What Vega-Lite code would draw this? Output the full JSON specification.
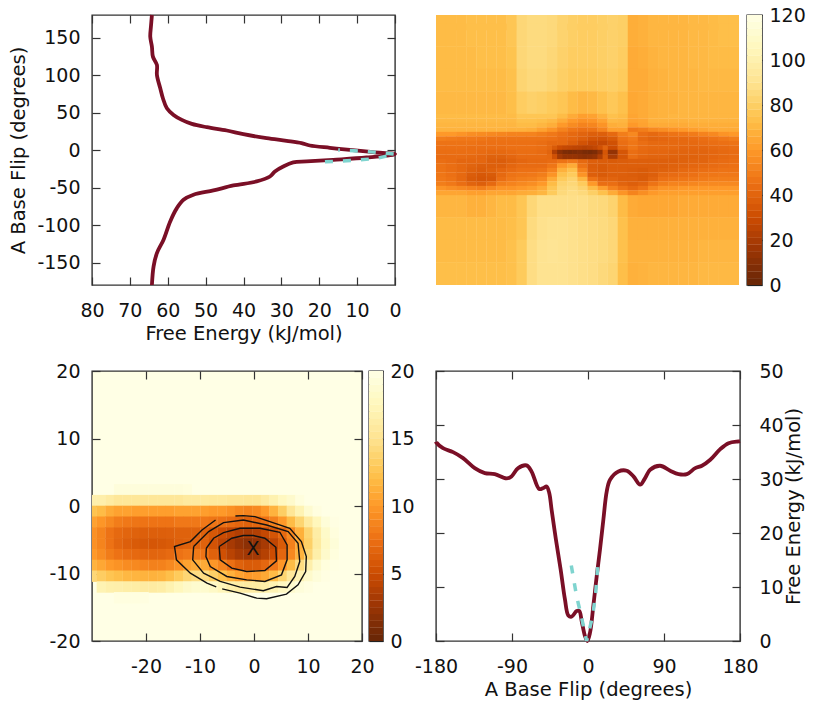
{"$schema":"https://vega.github.io/schema/vega-lite/v6.json","background":"white","padding":{"left":8,"top":5,"right":15,"bottom":10},"bounds":"flush","spacing":356,"resolve":{"scale":{"color":"independent"}},
"config":{"view":{"stroke":"#333","strokeWidth":1.4},"text":{"font":"DejaVu Sans"},"axis":{"domain":false,"grid":false,"ticks":true,"tickSize":-8,"tickColor":"#333","tickWidth":1.2,"labelColor":"#111","labelFont":"DejaVu Sans","labelFontSize":19,"titleFont":"DejaVu Sans","titleFontSize":19.5,"titleFontWeight":"normal","titleColor":"#111","labelOverlap":false,"labelBound":false,"labelFlush":false,"labelPadding":24,"labelExpr":"''+datum.value"}},
"datasets":{
"A":[{"e":64.18,"y":180,"i":1},{"e":64.44,"y":164.4,"i":2},{"e":64.62,"y":151.1,"i":3},{"e":64.18,"y":137.8,"i":4},{"e":63.92,"y":124.5,"i":5},{"e":62.86,"y":113.4,"i":6},{"e":62.86,"y":100.1,"i":7},{"e":61.98,"y":82.3,"i":8},{"e":61.28,"y":69,"i":9},{"e":60.23,"y":55.7,"i":10},{"e":58.47,"y":46.8,"i":11},{"e":56.28,"y":40.2,"i":12},{"e":53.64,"y":34.8,"i":13},{"e":49.69,"y":30.4,"i":14},{"e":44.43,"y":26,"i":15},{"e":40.04,"y":21.1,"i":16},{"e":33.89,"y":15.8,"i":17},{"e":28.62,"y":12.2,"i":18},{"e":24.67,"y":9.1,"i":19},{"e":22.48,"y":6,"i":20},{"e":17.21,"y":2.9,"i":21},{"e":11.94,"y":0.2,"i":22},{"e":5.79,"y":-2.9,"i":23},{"e":0,"y":-5.5,"i":24},{"e":7.55,"y":-10,"i":25},{"e":16.33,"y":-13.1,"i":26},{"e":23.35,"y":-15.3,"i":27},{"e":26.87,"y":-16.6,"i":28},{"e":29.5,"y":-22,"i":29},{"e":31.7,"y":-28.6,"i":30},{"e":33.01,"y":-35.3,"i":31},{"e":36.52,"y":-41.9,"i":32},{"e":42.67,"y":-47.3,"i":33},{"e":47.94,"y":-53.9,"i":34},{"e":53.2,"y":-59.7,"i":35},{"e":55.84,"y":-66.4,"i":36},{"e":57.59,"y":-77.5,"i":37},{"e":59.35,"y":-95.2,"i":38},{"e":61.11,"y":-119.6,"i":39},{"e":62.86,"y":-137.4,"i":40},{"e":63.74,"y":-155.1,"i":41},{"e":64.18,"y":-180,"i":42}],
"Ad":[{"e":18.5,"y":-15.8,"i":1},{"e":11.06,"y":-14,"i":2},{"e":4.92,"y":-11.3,"i":3},{"e":0,"y":-5.5,"i":4},{"e":7.55,"y":-2,"i":5},{"e":15,"y":0,"i":6}],
"D":[{"x":-180,"e":36.9},{"x":-179.6,"e":36.76},{"x":-171.7,"e":35.71},{"x":-159.8,"e":34.98},{"x":-147.9,"e":33.87},{"x":-134.1,"e":32.02},{"x":-122.2,"e":31.1},{"x":-110.4,"e":30.91},{"x":-96.5,"e":30.11},{"x":-90.6,"e":30.48},{"x":-82.7,"e":32.02},{"x":-72.8,"e":32.51},{"x":-66.9,"e":31.4},{"x":-57.8,"e":28.14},{"x":-53,"e":28.33},{"x":-49,"e":28.63},{"x":-45.9,"e":27.4},{"x":-43.1,"e":24.32},{"x":-38,"e":18.78},{"x":-32.4,"e":13.24},{"x":-27.3,"e":7.7},{"x":-23.3,"e":4.74},{"x":-19.4,"e":4.5},{"x":-13.4,"e":5.54},{"x":-10.3,"e":5.54},{"x":-7.5,"e":3.69},{"x":-3.6,"e":0.92},{"x":-0.8,"e":0},{"x":2.4,"e":1.54},{"x":6.3,"e":6.47},{"x":10.3,"e":12},{"x":14.2,"e":16.93},{"x":18.2,"e":22.48},{"x":22.2,"e":27.71},{"x":26.1,"e":29.86},{"x":36,"e":31.4},{"x":45.9,"e":31.53},{"x":53.8,"e":30.48},{"x":61.7,"e":28.94},{"x":67.6,"e":30.17},{"x":73.6,"e":31.71},{"x":85.4,"e":32.45},{"x":97.3,"e":31.53},{"x":107.2,"e":30.91},{"x":117.1,"e":30.91},{"x":127,"e":32.02},{"x":134.9,"e":32.45},{"x":144.8,"e":33.56},{"x":156.6,"e":35.53},{"x":166.5,"e":36.64},{"x":178.4,"e":36.95},{"x":180,"e":37}],
"Dd":[{"x":-19.8,"e":13.98},{"x":-13.4,"e":8.19},{"x":-8.7,"e":5.11},{"x":-1.6,"e":0},{"x":5.5,"e":4.6},{"x":9.1,"e":8.9},{"x":11.5,"e":13.7}],
"B1":[{"x":-174,"y":175,"v":72},{"x":-162,"y":175,"v":72},{"x":-150,"y":175,"v":72},{"x":-138,"y":175,"v":73},{"x":-126,"y":175,"v":73},{"x":-114,"y":175,"v":73},{"x":-102,"y":175,"v":73},{"x":-90,"y":175,"v":76},{"x":-78,"y":175,"v":84},{"x":-66,"y":175,"v":86},{"x":-54,"y":175,"v":86},{"x":-42,"y":175,"v":85},{"x":-30,"y":175,"v":82},{"x":-18,"y":175,"v":80},{"x":-6,"y":175,"v":79},{"x":6,"y":175,"v":79},{"x":18,"y":175,"v":80},{"x":30,"y":175,"v":81},{"x":42,"y":175,"v":80},{"x":54,"y":175,"v":67},{"x":66,"y":175,"v":68},{"x":78,"y":175,"v":70},{"x":90,"y":175,"v":70},{"x":102,"y":175,"v":70},{"x":114,"y":175,"v":70},{"x":126,"y":175,"v":71},{"x":138,"y":175,"v":71},{"x":150,"y":175,"v":72},{"x":162,"y":175,"v":73},{"x":174,"y":175,"v":73},
{"x":-174,"y":153,"v":72},{"x":-162,"y":153,"v":72},{"x":-150,"y":153,"v":72},{"x":-138,"y":153,"v":73},{"x":-126,"y":153,"v":73},{"x":-114,"y":153,"v":73},{"x":-102,"y":153,"v":73},{"x":-90,"y":153,"v":76},{"x":-78,"y":153,"v":84},{"x":-66,"y":153,"v":86},{"x":-54,"y":153,"v":86},{"x":-42,"y":153,"v":85},{"x":-30,"y":153,"v":82},{"x":-18,"y":153,"v":80},{"x":-6,"y":153,"v":79},{"x":6,"y":153,"v":79},{"x":18,"y":153,"v":80},{"x":30,"y":153,"v":81},{"x":42,"y":153,"v":80},{"x":54,"y":153,"v":67},{"x":66,"y":153,"v":68},{"x":78,"y":153,"v":70},{"x":90,"y":153,"v":70},{"x":102,"y":153,"v":70},{"x":114,"y":153,"v":70},{"x":126,"y":153,"v":71},{"x":138,"y":153,"v":71},{"x":150,"y":153,"v":72},{"x":162,"y":153,"v":73},{"x":174,"y":153,"v":73},
{"x":-174,"y":123,"v":72},{"x":-162,"y":123,"v":72},{"x":-150,"y":123,"v":72},{"x":-138,"y":123,"v":72},{"x":-126,"y":123,"v":73},{"x":-114,"y":123,"v":73},{"x":-102,"y":123,"v":73},{"x":-90,"y":123,"v":75},{"x":-78,"y":123,"v":84},{"x":-66,"y":123,"v":86},{"x":-54,"y":123,"v":86},{"x":-42,"y":123,"v":84},{"x":-30,"y":123,"v":81},{"x":-18,"y":123,"v":79},{"x":-6,"y":123,"v":79},{"x":6,"y":123,"v":79},{"x":18,"y":123,"v":80},{"x":30,"y":123,"v":81},{"x":42,"y":123,"v":79},{"x":54,"y":123,"v":66},{"x":66,"y":123,"v":67},{"x":78,"y":123,"v":69},{"x":90,"y":123,"v":70},{"x":102,"y":123,"v":70},{"x":114,"y":123,"v":70},{"x":126,"y":123,"v":71},{"x":138,"y":123,"v":71},{"x":150,"y":123,"v":72},{"x":162,"y":123,"v":72},{"x":174,"y":123,"v":72},
{"x":-174,"y":93,"v":72},{"x":-162,"y":93,"v":72},{"x":-150,"y":93,"v":72},{"x":-138,"y":93,"v":72},{"x":-126,"y":93,"v":72},{"x":-114,"y":93,"v":72},{"x":-102,"y":93,"v":72},{"x":-90,"y":93,"v":74},{"x":-78,"y":93,"v":83},{"x":-66,"y":93,"v":85},{"x":-54,"y":93,"v":85},{"x":-42,"y":93,"v":83},{"x":-30,"y":93,"v":80},{"x":-18,"y":93,"v":78},{"x":-6,"y":93,"v":78},{"x":6,"y":93,"v":78},{"x":18,"y":93,"v":79},{"x":30,"y":93,"v":80},{"x":42,"y":93,"v":78},{"x":54,"y":93,"v":66},{"x":66,"y":93,"v":66},{"x":78,"y":93,"v":68},{"x":90,"y":93,"v":69},{"x":102,"y":93,"v":70},{"x":114,"y":93,"v":70},{"x":126,"y":93,"v":70},{"x":138,"y":93,"v":71},{"x":150,"y":93,"v":71},{"x":162,"y":93,"v":71},{"x":174,"y":93,"v":71},
{"x":-174,"y":63,"v":71},{"x":-162,"y":63,"v":71},{"x":-150,"y":63,"v":71},{"x":-138,"y":63,"v":71},{"x":-126,"y":63,"v":71},{"x":-114,"y":63,"v":71},{"x":-102,"y":63,"v":71},{"x":-90,"y":63,"v":73},{"x":-78,"y":63,"v":79},{"x":-66,"y":63,"v":81},{"x":-54,"y":63,"v":80},{"x":-42,"y":63,"v":78},{"x":-30,"y":63,"v":76},{"x":-18,"y":63,"v":72},{"x":-6,"y":63,"v":70},{"x":6,"y":63,"v":71},{"x":18,"y":63,"v":74},{"x":30,"y":63,"v":77},{"x":42,"y":63,"v":74},{"x":54,"y":63,"v":65},{"x":66,"y":63,"v":66},{"x":78,"y":63,"v":68},{"x":90,"y":63,"v":69},{"x":102,"y":63,"v":69},{"x":114,"y":63,"v":70},{"x":126,"y":63,"v":70},{"x":138,"y":63,"v":70},{"x":150,"y":63,"v":70},{"x":162,"y":63,"v":70},{"x":174,"y":63,"v":70},
{"x":-174,"y":-75,"v":70},{"x":-162,"y":-75,"v":70},{"x":-150,"y":-75,"v":70},{"x":-138,"y":-75,"v":68},{"x":-126,"y":-75,"v":68},{"x":-114,"y":-75,"v":70},{"x":-102,"y":-75,"v":72},{"x":-90,"y":-75,"v":72},{"x":-78,"y":-75,"v":76},{"x":-66,"y":-75,"v":84},{"x":-54,"y":-75,"v":88},{"x":-42,"y":-75,"v":88},{"x":-30,"y":-75,"v":88},{"x":-18,"y":-75,"v":88},{"x":-6,"y":-75,"v":88},{"x":6,"y":-75,"v":86},{"x":18,"y":-75,"v":85},{"x":30,"y":-75,"v":82},{"x":42,"y":-75,"v":72},{"x":54,"y":-75,"v":66},{"x":66,"y":-75,"v":65},{"x":78,"y":-75,"v":65},{"x":90,"y":-75,"v":65},{"x":102,"y":-75,"v":65},{"x":114,"y":-75,"v":66},{"x":126,"y":-75,"v":66},{"x":138,"y":-75,"v":66},{"x":150,"y":-75,"v":66},{"x":162,"y":-75,"v":66},{"x":174,"y":-75,"v":66},
{"x":-174,"y":-105,"v":72},{"x":-162,"y":-105,"v":72},{"x":-150,"y":-105,"v":72},{"x":-138,"y":-105,"v":72},{"x":-126,"y":-105,"v":72},{"x":-114,"y":-105,"v":72},{"x":-102,"y":-105,"v":72},{"x":-90,"y":-105,"v":73},{"x":-78,"y":-105,"v":76},{"x":-66,"y":-105,"v":86},{"x":-54,"y":-105,"v":89},{"x":-42,"y":-105,"v":90},{"x":-30,"y":-105,"v":90},{"x":-18,"y":-105,"v":89},{"x":-6,"y":-105,"v":88},{"x":6,"y":-105,"v":87},{"x":18,"y":-105,"v":86},{"x":30,"y":-105,"v":84},{"x":42,"y":-105,"v":74},{"x":54,"y":-105,"v":68},{"x":66,"y":-105,"v":68},{"x":78,"y":-105,"v":68},{"x":90,"y":-105,"v":68},{"x":102,"y":-105,"v":68},{"x":114,"y":-105,"v":68},{"x":126,"y":-105,"v":68},{"x":138,"y":-105,"v":68},{"x":150,"y":-105,"v":68},{"x":162,"y":-105,"v":68},{"x":174,"y":-105,"v":68},
{"x":-174,"y":-135,"v":72},{"x":-162,"y":-135,"v":72},{"x":-150,"y":-135,"v":72},{"x":-138,"y":-135,"v":72},{"x":-126,"y":-135,"v":72},{"x":-114,"y":-135,"v":72},{"x":-102,"y":-135,"v":72},{"x":-90,"y":-135,"v":74},{"x":-78,"y":-135,"v":78},{"x":-66,"y":-135,"v":87},{"x":-54,"y":-135,"v":90},{"x":-42,"y":-135,"v":91},{"x":-30,"y":-135,"v":90},{"x":-18,"y":-135,"v":89},{"x":-6,"y":-135,"v":88},{"x":6,"y":-135,"v":87},{"x":18,"y":-135,"v":86},{"x":30,"y":-135,"v":84},{"x":42,"y":-135,"v":74},{"x":54,"y":-135,"v":69},{"x":66,"y":-135,"v":69},{"x":78,"y":-135,"v":69},{"x":90,"y":-135,"v":69},{"x":102,"y":-135,"v":69},{"x":114,"y":-135,"v":69},{"x":126,"y":-135,"v":69},{"x":138,"y":-135,"v":70},{"x":150,"y":-135,"v":70},{"x":162,"y":-135,"v":70},{"x":174,"y":-135,"v":70},
{"x":-174,"y":-165,"v":73},{"x":-162,"y":-165,"v":73},{"x":-150,"y":-165,"v":73},{"x":-138,"y":-165,"v":73},{"x":-126,"y":-165,"v":73},{"x":-114,"y":-165,"v":73},{"x":-102,"y":-165,"v":73},{"x":-90,"y":-165,"v":74},{"x":-78,"y":-165,"v":78},{"x":-66,"y":-165,"v":87},{"x":-54,"y":-165,"v":90},{"x":-42,"y":-165,"v":90},{"x":-30,"y":-165,"v":90},{"x":-18,"y":-165,"v":89},{"x":-6,"y":-165,"v":88},{"x":6,"y":-165,"v":87},{"x":18,"y":-165,"v":85},{"x":30,"y":-165,"v":83},{"x":42,"y":-165,"v":73},{"x":54,"y":-165,"v":68},{"x":66,"y":-165,"v":69},{"x":78,"y":-165,"v":70},{"x":90,"y":-165,"v":70},{"x":102,"y":-165,"v":70},{"x":114,"y":-165,"v":70},{"x":126,"y":-165,"v":70},{"x":138,"y":-165,"v":71},{"x":150,"y":-165,"v":71},{"x":162,"y":-165,"v":71},{"x":174,"y":-165,"v":71}],
"B2":[{"x":-174,"y":45,"v":72},{"x":-162,"y":45,"v":72},{"x":-150,"y":45,"v":72},{"x":-138,"y":45,"v":72},{"x":-126,"y":45,"v":72},{"x":-114,"y":45,"v":72},{"x":-102,"y":45,"v":72},{"x":-90,"y":45,"v":72},{"x":-78,"y":45,"v":76},{"x":-66,"y":45,"v":76},{"x":-54,"y":45,"v":76},{"x":-42,"y":45,"v":76},{"x":-30,"y":45,"v":72},{"x":-18,"y":45,"v":66},{"x":-6,"y":45,"v":62},{"x":6,"y":45,"v":63},{"x":18,"y":45,"v":68},{"x":30,"y":45,"v":74},{"x":42,"y":45,"v":72},{"x":54,"y":45,"v":64},{"x":66,"y":45,"v":66},{"x":78,"y":45,"v":68},{"x":90,"y":45,"v":69},{"x":102,"y":45,"v":70},{"x":114,"y":45,"v":70},{"x":126,"y":45,"v":70},{"x":138,"y":45,"v":70},{"x":150,"y":45,"v":70},{"x":162,"y":45,"v":70},{"x":174,"y":45,"v":70},
{"x":-174,"y":39,"v":71},{"x":-162,"y":39,"v":71},{"x":-150,"y":39,"v":71},{"x":-138,"y":39,"v":71},{"x":-126,"y":39,"v":71},{"x":-114,"y":39,"v":71},{"x":-102,"y":39,"v":71},{"x":-90,"y":39,"v":71},{"x":-78,"y":39,"v":74},{"x":-66,"y":39,"v":74},{"x":-54,"y":39,"v":73},{"x":-42,"y":39,"v":71},{"x":-30,"y":39,"v":66},{"x":-18,"y":39,"v":60},{"x":-6,"y":39,"v":57},{"x":6,"y":39,"v":58},{"x":18,"y":39,"v":63},{"x":30,"y":39,"v":71},{"x":42,"y":39,"v":70},{"x":54,"y":39,"v":63},{"x":66,"y":39,"v":64},{"x":78,"y":39,"v":68},{"x":90,"y":39,"v":68},{"x":102,"y":39,"v":68},{"x":114,"y":39,"v":68},{"x":126,"y":39,"v":69},{"x":138,"y":39,"v":69},{"x":150,"y":39,"v":69},{"x":162,"y":39,"v":69},{"x":174,"y":39,"v":69},
{"x":-174,"y":33,"v":70},{"x":-162,"y":33,"v":70},{"x":-150,"y":33,"v":70},{"x":-138,"y":33,"v":70},{"x":-126,"y":33,"v":70},{"x":-114,"y":33,"v":70},{"x":-102,"y":33,"v":70},{"x":-90,"y":33,"v":70},{"x":-78,"y":33,"v":72},{"x":-66,"y":33,"v":72},{"x":-54,"y":33,"v":70},{"x":-42,"y":33,"v":67},{"x":-30,"y":33,"v":60},{"x":-18,"y":33,"v":55},{"x":-6,"y":33,"v":52},{"x":6,"y":33,"v":53},{"x":18,"y":33,"v":58},{"x":30,"y":33,"v":67},{"x":42,"y":33,"v":68},{"x":54,"y":33,"v":60},{"x":66,"y":33,"v":63},{"x":78,"y":33,"v":66},{"x":90,"y":33,"v":66},{"x":102,"y":33,"v":66},{"x":114,"y":33,"v":66},{"x":126,"y":33,"v":67},{"x":138,"y":33,"v":67},{"x":150,"y":33,"v":67},{"x":162,"y":33,"v":67},{"x":174,"y":33,"v":67},
{"x":-174,"y":27,"v":69},{"x":-162,"y":27,"v":69},{"x":-150,"y":27,"v":69},{"x":-138,"y":27,"v":69},{"x":-126,"y":27,"v":69},{"x":-114,"y":27,"v":69},{"x":-102,"y":27,"v":69},{"x":-90,"y":27,"v":68},{"x":-78,"y":27,"v":68},{"x":-66,"y":27,"v":67},{"x":-54,"y":27,"v":63},{"x":-42,"y":27,"v":58},{"x":-30,"y":27,"v":52},{"x":-18,"y":27,"v":47},{"x":-6,"y":27,"v":45},{"x":6,"y":27,"v":46},{"x":18,"y":27,"v":52},{"x":30,"y":27,"v":62},{"x":42,"y":27,"v":62},{"x":54,"y":27,"v":48},{"x":66,"y":27,"v":50},{"x":78,"y":27,"v":54},{"x":90,"y":27,"v":56},{"x":102,"y":27,"v":58},{"x":114,"y":27,"v":60},{"x":126,"y":27,"v":62},{"x":138,"y":27,"v":64},{"x":150,"y":27,"v":66},{"x":162,"y":27,"v":66},{"x":174,"y":27,"v":66},
{"x":-174,"y":21,"v":60},{"x":-162,"y":21,"v":60},{"x":-150,"y":21,"v":58},{"x":-138,"y":21,"v":56},{"x":-126,"y":21,"v":55},{"x":-114,"y":21,"v":54},{"x":-102,"y":21,"v":53},{"x":-90,"y":21,"v":52},{"x":-78,"y":21,"v":52},{"x":-66,"y":21,"v":52},{"x":-54,"y":21,"v":50},{"x":-42,"y":21,"v":48},{"x":-30,"y":21,"v":45},{"x":-18,"y":21,"v":42},{"x":-6,"y":21,"v":40},{"x":6,"y":21,"v":38},{"x":18,"y":21,"v":38},{"x":30,"y":21,"v":42},{"x":42,"y":21,"v":50},{"x":54,"y":21,"v":54},{"x":66,"y":21,"v":44},{"x":78,"y":21,"v":42},{"x":90,"y":21,"v":44},{"x":102,"y":21,"v":46},{"x":114,"y":21,"v":47},{"x":126,"y":21,"v":49},{"x":138,"y":21,"v":52},{"x":150,"y":21,"v":54},{"x":162,"y":21,"v":58},{"x":174,"y":21,"v":60},
{"x":-174,"y":15,"v":50},{"x":-162,"y":15,"v":49},{"x":-150,"y":15,"v":48},{"x":-138,"y":15,"v":48},{"x":-126,"y":15,"v":47},{"x":-114,"y":15,"v":46},{"x":-102,"y":15,"v":46},{"x":-90,"y":15,"v":46},{"x":-78,"y":15,"v":46},{"x":-66,"y":15,"v":46},{"x":-54,"y":15,"v":46},{"x":-42,"y":15,"v":45},{"x":-30,"y":15,"v":43},{"x":-18,"y":15,"v":41},{"x":-6,"y":15,"v":38},{"x":6,"y":15,"v":34},{"x":18,"y":15,"v":33},{"x":30,"y":15,"v":36},{"x":42,"y":15,"v":46},{"x":54,"y":15,"v":49},{"x":66,"y":15,"v":42},{"x":78,"y":15,"v":40},{"x":90,"y":15,"v":41},{"x":102,"y":15,"v":42},{"x":114,"y":15,"v":42},{"x":126,"y":15,"v":43},{"x":138,"y":15,"v":44},{"x":150,"y":15,"v":46},{"x":162,"y":15,"v":48},{"x":174,"y":15,"v":50},
{"x":-174,"y":9,"v":46},{"x":-162,"y":9,"v":46},{"x":-150,"y":9,"v":46},{"x":-138,"y":9,"v":46},{"x":-126,"y":9,"v":45},{"x":-114,"y":9,"v":45},{"x":-102,"y":9,"v":45},{"x":-90,"y":9,"v":45},{"x":-78,"y":9,"v":45},{"x":-66,"y":9,"v":45},{"x":-54,"y":9,"v":44},{"x":-42,"y":9,"v":42},{"x":-30,"y":9,"v":42},{"x":-18,"y":9,"v":38},{"x":-6,"y":9,"v":33},{"x":6,"y":9,"v":29},{"x":18,"y":9,"v":28},{"x":30,"y":9,"v":32},{"x":42,"y":9,"v":44},{"x":54,"y":9,"v":47},{"x":66,"y":9,"v":44},{"x":78,"y":9,"v":42},{"x":90,"y":9,"v":42},{"x":102,"y":9,"v":42},{"x":114,"y":9,"v":42},{"x":126,"y":9,"v":42},{"x":138,"y":9,"v":43},{"x":150,"y":9,"v":44},{"x":162,"y":9,"v":45},{"x":174,"y":9,"v":46},
{"x":-174,"y":3,"v":45},{"x":-162,"y":3,"v":45},{"x":-150,"y":3,"v":45},{"x":-138,"y":3,"v":44},{"x":-126,"y":3,"v":44},{"x":-114,"y":3,"v":44},{"x":-102,"y":3,"v":44},{"x":-90,"y":3,"v":45},{"x":-78,"y":3,"v":45},{"x":-66,"y":3,"v":45},{"x":-54,"y":3,"v":44},{"x":-42,"y":3,"v":43},{"x":-30,"y":3,"v":40},{"x":-18,"y":3,"v":33},{"x":-6,"y":3,"v":28},{"x":6,"y":3,"v":26},{"x":18,"y":3,"v":26},{"x":30,"y":3,"v":30},{"x":42,"y":3,"v":42},{"x":54,"y":3,"v":47},{"x":66,"y":3,"v":43},{"x":78,"y":3,"v":42},{"x":90,"y":3,"v":42},{"x":102,"y":3,"v":42},{"x":114,"y":3,"v":41},{"x":126,"y":3,"v":41},{"x":138,"y":3,"v":41},{"x":150,"y":3,"v":42},{"x":162,"y":3,"v":43},{"x":174,"y":3,"v":44},
{"x":-174,"y":-3,"v":44},{"x":-162,"y":-3,"v":44},{"x":-150,"y":-3,"v":44},{"x":-138,"y":-3,"v":44},{"x":-126,"y":-3,"v":43},{"x":-114,"y":-3,"v":42},{"x":-102,"y":-3,"v":42},{"x":-90,"y":-3,"v":43},{"x":-78,"y":-3,"v":44},{"x":-66,"y":-3,"v":44},{"x":-54,"y":-3,"v":43},{"x":-42,"y":-3,"v":42},{"x":-30,"y":-3,"v":38},{"x":-18,"y":-3,"v":22},{"x":-6,"y":-3,"v":12},{"x":6,"y":-3,"v":10},{"x":18,"y":-3,"v":10},{"x":30,"y":-3,"v":14},{"x":42,"y":-3,"v":34},{"x":54,"y":-3,"v":44},{"x":66,"y":-3,"v":42},{"x":78,"y":-3,"v":41},{"x":90,"y":-3,"v":41},{"x":102,"y":-3,"v":40},{"x":114,"y":-3,"v":40},{"x":126,"y":-3,"v":40},{"x":138,"y":-3,"v":40},{"x":150,"y":-3,"v":41},{"x":162,"y":-3,"v":42},{"x":174,"y":-3,"v":43},
{"x":-174,"y":-9,"v":43},{"x":-162,"y":-9,"v":43},{"x":-150,"y":-9,"v":43},{"x":-138,"y":-9,"v":42},{"x":-126,"y":-9,"v":41},{"x":-114,"y":-9,"v":39},{"x":-102,"y":-9,"v":39},{"x":-90,"y":-9,"v":41},{"x":-78,"y":-9,"v":43},{"x":-66,"y":-9,"v":43},{"x":-54,"y":-9,"v":43},{"x":-42,"y":-9,"v":43},{"x":-30,"y":-9,"v":40},{"x":-18,"y":-9,"v":28},{"x":-6,"y":-9,"v":18},{"x":6,"y":-9,"v":16},{"x":18,"y":-9,"v":16},{"x":30,"y":-9,"v":20},{"x":42,"y":-9,"v":34},{"x":54,"y":-9,"v":44},{"x":66,"y":-9,"v":41},{"x":78,"y":-9,"v":40},{"x":90,"y":-9,"v":40},{"x":102,"y":-9,"v":39},{"x":114,"y":-9,"v":39},{"x":126,"y":-9,"v":39},{"x":138,"y":-9,"v":40},{"x":150,"y":-9,"v":41},{"x":162,"y":-9,"v":42},{"x":174,"y":-9,"v":43},
{"x":-174,"y":-15,"v":44},{"x":-162,"y":-15,"v":43},{"x":-150,"y":-15,"v":41},{"x":-138,"y":-15,"v":41},{"x":-126,"y":-15,"v":41},{"x":-114,"y":-15,"v":38},{"x":-102,"y":-15,"v":37},{"x":-90,"y":-15,"v":39},{"x":-78,"y":-15,"v":41},{"x":-66,"y":-15,"v":42},{"x":-54,"y":-15,"v":42},{"x":-42,"y":-15,"v":43},{"x":-30,"y":-15,"v":46},{"x":-18,"y":-15,"v":48},{"x":-6,"y":-15,"v":42},{"x":6,"y":-15,"v":38},{"x":18,"y":-15,"v":37},{"x":30,"y":-15,"v":36},{"x":42,"y":-15,"v":37},{"x":54,"y":-15,"v":38},{"x":66,"y":-15,"v":38},{"x":78,"y":-15,"v":38},{"x":90,"y":-15,"v":38},{"x":102,"y":-15,"v":38},{"x":114,"y":-15,"v":39},{"x":126,"y":-15,"v":40},{"x":138,"y":-15,"v":40},{"x":150,"y":-15,"v":42},{"x":162,"y":-15,"v":43},{"x":174,"y":-15,"v":44},
{"x":-174,"y":-21,"v":46},{"x":-162,"y":-21,"v":44},{"x":-150,"y":-21,"v":42},{"x":-138,"y":-21,"v":40},{"x":-126,"y":-21,"v":38},{"x":-114,"y":-21,"v":38},{"x":-102,"y":-21,"v":38},{"x":-90,"y":-21,"v":41},{"x":-78,"y":-21,"v":43},{"x":-66,"y":-21,"v":43},{"x":-54,"y":-21,"v":43},{"x":-42,"y":-21,"v":47},{"x":-30,"y":-21,"v":60},{"x":-18,"y":-21,"v":66},{"x":-6,"y":-21,"v":46},{"x":6,"y":-21,"v":37},{"x":18,"y":-21,"v":36},{"x":30,"y":-21,"v":38},{"x":42,"y":-21,"v":38},{"x":54,"y":-21,"v":38},{"x":66,"y":-21,"v":38},{"x":78,"y":-21,"v":38},{"x":90,"y":-21,"v":38},{"x":102,"y":-21,"v":39},{"x":114,"y":-21,"v":40},{"x":126,"y":-21,"v":41},{"x":138,"y":-21,"v":42},{"x":150,"y":-21,"v":43},{"x":162,"y":-21,"v":44},{"x":174,"y":-21,"v":45},
{"x":-174,"y":-27,"v":46},{"x":-162,"y":-27,"v":44},{"x":-150,"y":-27,"v":42},{"x":-138,"y":-27,"v":39},{"x":-126,"y":-27,"v":37},{"x":-114,"y":-27,"v":39},{"x":-102,"y":-27,"v":41},{"x":-90,"y":-27,"v":43},{"x":-78,"y":-27,"v":45},{"x":-66,"y":-27,"v":45},{"x":-54,"y":-27,"v":46},{"x":-42,"y":-27,"v":52},{"x":-30,"y":-27,"v":68},{"x":-18,"y":-27,"v":74},{"x":-6,"y":-27,"v":52},{"x":6,"y":-27,"v":38},{"x":18,"y":-27,"v":36},{"x":30,"y":-27,"v":38},{"x":42,"y":-27,"v":38},{"x":54,"y":-27,"v":37},{"x":66,"y":-27,"v":36},{"x":78,"y":-27,"v":38},{"x":90,"y":-27,"v":39},{"x":102,"y":-27,"v":40},{"x":114,"y":-27,"v":42},{"x":126,"y":-27,"v":43},{"x":138,"y":-27,"v":44},{"x":150,"y":-27,"v":45},{"x":162,"y":-27,"v":46},{"x":174,"y":-27,"v":46},
{"x":-174,"y":-33,"v":47},{"x":-162,"y":-33,"v":45},{"x":-150,"y":-33,"v":42},{"x":-138,"y":-33,"v":37},{"x":-126,"y":-33,"v":35},{"x":-114,"y":-33,"v":36},{"x":-102,"y":-33,"v":42},{"x":-90,"y":-33,"v":46},{"x":-78,"y":-33,"v":47},{"x":-66,"y":-33,"v":48},{"x":-54,"y":-33,"v":50},{"x":-42,"y":-33,"v":58},{"x":-30,"y":-33,"v":74},{"x":-18,"y":-33,"v":78},{"x":-6,"y":-33,"v":58},{"x":6,"y":-33,"v":38},{"x":18,"y":-33,"v":36},{"x":30,"y":-33,"v":38},{"x":42,"y":-33,"v":38},{"x":54,"y":-33,"v":37},{"x":66,"y":-33,"v":36},{"x":78,"y":-33,"v":38},{"x":90,"y":-33,"v":42},{"x":102,"y":-33,"v":43},{"x":114,"y":-33,"v":44},{"x":126,"y":-33,"v":45},{"x":138,"y":-33,"v":47},{"x":150,"y":-33,"v":47},{"x":162,"y":-33,"v":48},{"x":174,"y":-33,"v":48},
{"x":-174,"y":-39,"v":48},{"x":-162,"y":-39,"v":46},{"x":-150,"y":-39,"v":42},{"x":-138,"y":-39,"v":36},{"x":-126,"y":-39,"v":34},{"x":-114,"y":-39,"v":35},{"x":-102,"y":-39,"v":44},{"x":-90,"y":-39,"v":48},{"x":-78,"y":-39,"v":50},{"x":-66,"y":-39,"v":51},{"x":-54,"y":-39,"v":54},{"x":-42,"y":-39,"v":66},{"x":-30,"y":-39,"v":78},{"x":-18,"y":-39,"v":82},{"x":-6,"y":-39,"v":70},{"x":6,"y":-39,"v":46},{"x":18,"y":-39,"v":40},{"x":30,"y":-39,"v":40},{"x":42,"y":-39,"v":38},{"x":54,"y":-39,"v":38},{"x":66,"y":-39,"v":36},{"x":78,"y":-39,"v":40},{"x":90,"y":-39,"v":45},{"x":102,"y":-39,"v":46},{"x":114,"y":-39,"v":47},{"x":126,"y":-39,"v":48},{"x":138,"y":-39,"v":49},{"x":150,"y":-39,"v":50},{"x":162,"y":-39,"v":50},{"x":174,"y":-39,"v":50},
{"x":-174,"y":-45,"v":50},{"x":-162,"y":-45,"v":48},{"x":-150,"y":-45,"v":44},{"x":-138,"y":-45,"v":40},{"x":-126,"y":-45,"v":38},{"x":-114,"y":-45,"v":42},{"x":-102,"y":-45,"v":50},{"x":-90,"y":-45,"v":52},{"x":-78,"y":-45,"v":54},{"x":-66,"y":-45,"v":56},{"x":-54,"y":-45,"v":60},{"x":-42,"y":-45,"v":72},{"x":-30,"y":-45,"v":82},{"x":-18,"y":-45,"v":84},{"x":-6,"y":-45,"v":78},{"x":6,"y":-45,"v":60},{"x":18,"y":-45,"v":44},{"x":30,"y":-45,"v":44},{"x":42,"y":-45,"v":40},{"x":54,"y":-45,"v":38},{"x":66,"y":-45,"v":40},{"x":78,"y":-45,"v":46},{"x":90,"y":-45,"v":50},{"x":102,"y":-45,"v":52},{"x":114,"y":-45,"v":52},{"x":126,"y":-45,"v":53},{"x":138,"y":-45,"v":54},{"x":150,"y":-45,"v":54},{"x":162,"y":-45,"v":54},{"x":174,"y":-45,"v":54},
{"x":-174,"y":-51,"v":58},{"x":-162,"y":-51,"v":56},{"x":-150,"y":-51,"v":54},{"x":-138,"y":-51,"v":52},{"x":-126,"y":-51,"v":50},{"x":-114,"y":-51,"v":54},{"x":-102,"y":-51,"v":58},{"x":-90,"y":-51,"v":58},{"x":-78,"y":-51,"v":60},{"x":-66,"y":-51,"v":62},{"x":-54,"y":-51,"v":66},{"x":-42,"y":-51,"v":76},{"x":-30,"y":-51,"v":84},{"x":-18,"y":-51,"v":86},{"x":-6,"y":-51,"v":82},{"x":6,"y":-51,"v":72},{"x":18,"y":-51,"v":62},{"x":30,"y":-51,"v":52},{"x":42,"y":-51,"v":46},{"x":54,"y":-51,"v":42},{"x":66,"y":-51,"v":46},{"x":78,"y":-51,"v":54},{"x":90,"y":-51,"v":58},{"x":102,"y":-51,"v":58},{"x":114,"y":-51,"v":60},{"x":126,"y":-51,"v":60},{"x":138,"y":-51,"v":60},{"x":150,"y":-51,"v":60},{"x":162,"y":-51,"v":60},{"x":174,"y":-51,"v":60},
{"x":-174,"y":-57,"v":64},{"x":-162,"y":-57,"v":64},{"x":-150,"y":-57,"v":64},{"x":-138,"y":-57,"v":62},{"x":-126,"y":-57,"v":62},{"x":-114,"y":-57,"v":64},{"x":-102,"y":-57,"v":64},{"x":-90,"y":-57,"v":64},{"x":-78,"y":-57,"v":66},{"x":-66,"y":-57,"v":67},{"x":-54,"y":-57,"v":70},{"x":-42,"y":-57,"v":78},{"x":-30,"y":-57,"v":85},{"x":-18,"y":-57,"v":87},{"x":-6,"y":-57,"v":85},{"x":6,"y":-57,"v":80},{"x":18,"y":-57,"v":74},{"x":30,"y":-57,"v":66},{"x":42,"y":-57,"v":58},{"x":54,"y":-57,"v":52},{"x":66,"y":-57,"v":56},{"x":78,"y":-57,"v":60},{"x":90,"y":-57,"v":62},{"x":102,"y":-57,"v":62},{"x":114,"y":-57,"v":62},{"x":126,"y":-57,"v":62},{"x":138,"y":-57,"v":62},{"x":150,"y":-57,"v":62},{"x":162,"y":-57,"v":62},{"x":174,"y":-57,"v":62}],
"B3":[{"x":-45,"y":3,"v":42},{"x":-39,"y":3,"v":36},{"x":-33,"y":3,"v":30},{"x":-27,"y":3,"v":28},{"x":-21,"y":3,"v":27},{"x":-15,"y":3,"v":26},{"x":-9,"y":3,"v":25},{"x":-3,"y":3,"v":24},{"x":3,"y":3,"v":25},{"x":9,"y":3,"v":27},{"x":15,"y":3,"v":32},{"x":21,"y":3,"v":40},
{"x":-45,"y":-3,"v":40},{"x":-39,"y":-3,"v":22},{"x":-33,"y":-3,"v":11},{"x":-27,"y":-3,"v":7},{"x":-21,"y":-3,"v":6},{"x":-15,"y":-3,"v":7},{"x":-9,"y":-3,"v":8},{"x":-3,"y":-3,"v":6},{"x":3,"y":-3,"v":5},{"x":9,"y":-3,"v":7},{"x":15,"y":-3,"v":14},{"x":21,"y":-3,"v":34},
{"x":-45,"y":-9,"v":42},{"x":-39,"y":-9,"v":32},{"x":-33,"y":-9,"v":18},{"x":-27,"y":-9,"v":14},{"x":-21,"y":-9,"v":14},{"x":-15,"y":-9,"v":14},{"x":-9,"y":-9,"v":12},{"x":-3,"y":-9,"v":11},{"x":3,"y":-9,"v":12},{"x":9,"y":-9,"v":14},{"x":15,"y":-9,"v":22},{"x":21,"y":-9,"v":36}],
"Cont":[{"c":"a","i":1,"x":-6.44,"y":-6},{"c":"a","i":2,"x":-4.11,"y":-4.78},{"c":"a","i":3,"x":-1.96,"y":-4.38},{"c":"a","i":4,"x":-0.12,"y":-4.38},{"c":"a","i":5,"x":2.02,"y":-4.78},{"c":"a","i":6,"x":4.05,"y":-6.11},{"c":"a","i":7,"x":4.17,"y":-8.13},{"c":"a","i":8,"x":2.02,"y":-9.56},{"c":"a","i":9,"x":-1.35,"y":-9.7},{"c":"a","i":10,"x":-4.11,"y":-9.21},{"c":"a","i":11,"x":-6.26,"y":-7.98},{"c":"a","i":12,"x":-6.44,"y":-6},
{"c":"b","i":1,"x":-8.83,"y":-6.26},{"c":"b","i":2,"x":-7.48,"y":-4.78},{"c":"b","i":3,"x":-5.64,"y":-3.94},{"c":"b","i":4,"x":-2.58,"y":-3.3},{"c":"b","i":5,"x":1.1,"y":-3.3},{"c":"b","i":6,"x":4.79,"y":-3.89},{"c":"b","i":7,"x":6.13,"y":-5.76},{"c":"b","i":8,"x":6.13,"y":-7.98},{"c":"b","i":9,"x":5.09,"y":-10.2},{"c":"b","i":10,"x":2.02,"y":-11.18},{"c":"b","i":11,"x":-1.35,"y":-10.94},{"c":"b","i":12,"x":-5.03,"y":-10.44},{"c":"b","i":13,"x":-8.1,"y":-8.97},{"c":"b","i":14,"x":-8.9,"y":-7.49},{"c":"b","i":15,"x":-8.83,"y":-6.26},
{"c":"m","i":1,"x":-11.17,"y":-6.01},{"c":"m","i":2,"x":-11.35,"y":-7.98},{"c":"m","i":3,"x":-9.33,"y":-9.95},{"c":"m","i":4,"x":-6.26,"y":-11.18},{"c":"m","i":5,"x":-2.58,"y":-12.02},{"c":"m","i":6,"x":1.72,"y":-12.56},{"c":"m","i":7,"x":4.17,"y":-11.92},{"c":"m","i":8,"x":6.13,"y":-12.07},{"c":"m","i":9,"x":7.55,"y":-10.44},{"c":"m","i":10,"x":8.47,"y":-8.23},{"c":"m","i":11,"x":8.16,"y":-5.52},{"c":"m","i":12,"x":6.32,"y":-3.79},{"c":"m","i":13,"x":2.33,"y":-2.81},{"c":"m","i":14,"x":-1.96,"y":-2.07},{"c":"m","i":15,"x":-5.64,"y":-2.46},{"c":"m","i":16,"x":-8.4,"y":-3.79},{"c":"m","i":17,"x":-11.17,"y":-6.01},
{"c":"o1","i":1,"x":-7.12,"y":-2.07},{"c":"o1","i":2,"x":-9.63,"y":-3.55},{"c":"o1","i":3,"x":-11.78,"y":-5.27},{"c":"o1","i":4,"x":-14.72,"y":-6.01},{"c":"o1","i":5,"x":-14.36,"y":-7.98},{"c":"o1","i":6,"x":-11.78,"y":-9.95},{"c":"o1","i":7,"x":-8.71,"y":-11.43},{"c":"o1","i":8,"x":-6.99,"y":-11.97},
{"c":"o2","i":1,"x":-5.89,"y":-12.27},{"c":"o2","i":2,"x":-2.58,"y":-12.91},{"c":"o2","i":3,"x":0.49,"y":-13.65},{"c":"o2","i":4,"x":2.33,"y":-13.74},{"c":"o2","i":5,"x":6.01,"y":-13.05},{"c":"o2","i":6,"x":8.16,"y":-11.67},{"c":"o2","i":7,"x":9.57,"y":-9.7},{"c":"o2","i":8,"x":9.69,"y":-7.49},{"c":"o2","i":9,"x":8.77,"y":-5.27},{"c":"o2","i":10,"x":6.63,"y":-3.3},{"c":"o2","i":11,"x":2.94,"y":-2.32},{"c":"o2","i":12,"x":0.18,"y":-1.58},{"c":"o2","i":13,"x":-1.96,"y":-1.43},{"c":"o2","i":14,"x":-3.44,"y":-1.48}],
"C":[{"x":-25.12,"y":2.4,"v":19.4},{"x":-23.52,"y":2.4,"v":19.4},{"x":-21.92,"y":2.4,"v":19.4},{"x":-20.32,"y":2.4,"v":19.4},{"x":-18.72,"y":2.4,"v":19.4},{"x":-17.12,"y":2.4,"v":19.4},{"x":-15.52,"y":2.4,"v":19.4},{"x":-13.92,"y":2.4,"v":19.4},{"x":-12.32,"y":2.4,"v":19.5},
{"x":-29.92,"y":0.8,"v":16.5},{"x":-28.32,"y":0.8,"v":16.5},{"x":-26.72,"y":0.8,"v":16},{"x":-25.12,"y":0.8,"v":15.5},{"x":-23.52,"y":0.8,"v":15.5},{"x":-21.92,"y":0.8,"v":15.5},{"x":-20.32,"y":0.8,"v":15.5},{"x":-18.72,"y":0.8,"v":15.5},{"x":-17.12,"y":0.8,"v":15.5},{"x":-15.52,"y":0.8,"v":15.5},{"x":-13.92,"y":0.8,"v":15.5},{"x":-12.32,"y":0.8,"v":15.8},{"x":-10.72,"y":0.8,"v":15.8},{"x":-9.12,"y":0.8,"v":15.8},{"x":-7.52,"y":0.8,"v":15.7},{"x":-5.92,"y":0.8,"v":15.7},{"x":-4.32,"y":0.8,"v":15.5},{"x":-2.72,"y":0.8,"v":15.5},{"x":-1.12,"y":0.8,"v":15.3},{"x":0.48,"y":0.8,"v":15.3},{"x":2.08,"y":0.8,"v":16},{"x":3.68,"y":0.8,"v":16.8},{"x":5.28,"y":0.8,"v":17.8},{"x":6.88,"y":0.8,"v":18.5},{"x":8.48,"y":0.8,"v":19.5},
{"x":-29.92,"y":-0.8,"v":12.5},{"x":-28.32,"y":-0.8,"v":12},{"x":-26.72,"y":-0.8,"v":11},{"x":-25.12,"y":-0.8,"v":10.5},{"x":-23.52,"y":-0.8,"v":10.5},{"x":-21.92,"y":-0.8,"v":10.3},{"x":-20.32,"y":-0.8,"v":10.3},{"x":-18.72,"y":-0.8,"v":10.3},{"x":-17.12,"y":-0.8,"v":10.3},{"x":-15.52,"y":-0.8,"v":10.3},{"x":-13.92,"y":-0.8,"v":10.5},{"x":-12.32,"y":-0.8,"v":10.5},{"x":-10.72,"y":-0.8,"v":10.5},{"x":-9.12,"y":-0.8,"v":10.3},{"x":-7.52,"y":-0.8,"v":10},{"x":-5.92,"y":-0.8,"v":10},{"x":-4.32,"y":-0.8,"v":9.5},{"x":-2.72,"y":-0.8,"v":9},{"x":-1.12,"y":-0.8,"v":8.7},{"x":0.48,"y":-0.8,"v":9},{"x":2.08,"y":-0.8,"v":10},{"x":3.68,"y":-0.8,"v":11.5},{"x":5.28,"y":-0.8,"v":13.3},{"x":6.88,"y":-0.8,"v":15.3},{"x":8.48,"y":-0.8,"v":17},{"x":10.08,"y":-0.8,"v":18.7},{"x":11.68,"y":-0.8,"v":19.6},
{"x":-29.92,"y":-2.4,"v":10.5},{"x":-28.32,"y":-2.4,"v":9.8},{"x":-26.72,"y":-2.4,"v":9},{"x":-25.12,"y":-2.4,"v":8.3},{"x":-23.52,"y":-2.4,"v":8},{"x":-21.92,"y":-2.4,"v":7.8},{"x":-20.32,"y":-2.4,"v":7.7},{"x":-18.72,"y":-2.4,"v":7.7},{"x":-17.12,"y":-2.4,"v":7.7},{"x":-15.52,"y":-2.4,"v":7.7},{"x":-13.92,"y":-2.4,"v":8},{"x":-12.32,"y":-2.4,"v":8},{"x":-10.72,"y":-2.4,"v":8},{"x":-9.12,"y":-2.4,"v":8},{"x":-7.52,"y":-2.4,"v":7.8},{"x":-5.92,"y":-2.4,"v":7.5},{"x":-4.32,"y":-2.4,"v":7.2},{"x":-2.72,"y":-2.4,"v":6.8},{"x":-1.12,"y":-2.4,"v":6.5},{"x":0.48,"y":-2.4,"v":6.8},{"x":2.08,"y":-2.4,"v":7.5},{"x":3.68,"y":-2.4,"v":8.5},{"x":5.28,"y":-2.4,"v":10},{"x":6.88,"y":-2.4,"v":12},{"x":8.48,"y":-2.4,"v":13.8},{"x":10.08,"y":-2.4,"v":15.8},{"x":11.68,"y":-2.4,"v":17.5},{"x":13.28,"y":-2.4,"v":19.2},{"x":14.88,"y":-2.4,"v":19.8},
{"x":-29.92,"y":-4,"v":9.5},{"x":-28.32,"y":-4,"v":8.7},{"x":-26.72,"y":-4,"v":7.6},{"x":-25.12,"y":-4,"v":7},{"x":-23.52,"y":-4,"v":6.7},{"x":-21.92,"y":-4,"v":6.5},{"x":-20.32,"y":-4,"v":6.3},{"x":-18.72,"y":-4,"v":6.3},{"x":-17.12,"y":-4,"v":6.3},{"x":-15.52,"y":-4,"v":6.4},{"x":-13.92,"y":-4,"v":6.5},{"x":-12.32,"y":-4,"v":6.5},{"x":-10.72,"y":-4,"v":6.5},{"x":-9.12,"y":-4,"v":6.5},{"x":-7.52,"y":-4,"v":5.8},{"x":-5.92,"y":-4,"v":5},{"x":-4.32,"y":-4,"v":4.3},{"x":-2.72,"y":-4,"v":3.7},{"x":-1.12,"y":-4,"v":3.4},{"x":0.48,"y":-4,"v":3.8},{"x":2.08,"y":-4,"v":4.6},{"x":3.68,"y":-4,"v":5.6},{"x":5.28,"y":-4,"v":7},{"x":6.88,"y":-4,"v":9},{"x":8.48,"y":-4,"v":11.3},{"x":10.08,"y":-4,"v":13.8},{"x":11.68,"y":-4,"v":16.2},{"x":13.28,"y":-4,"v":18.3},{"x":14.88,"y":-4,"v":19.5},
{"x":-29.92,"y":-5.6,"v":9.5},{"x":-28.32,"y":-5.6,"v":8.7},{"x":-26.72,"y":-5.6,"v":7.6},{"x":-25.12,"y":-5.6,"v":6.8},{"x":-23.52,"y":-5.6,"v":6.3},{"x":-21.92,"y":-5.6,"v":6},{"x":-20.32,"y":-5.6,"v":5.8},{"x":-18.72,"y":-5.6,"v":5.7},{"x":-17.12,"y":-5.6,"v":5.8},{"x":-15.52,"y":-5.6,"v":6},{"x":-13.92,"y":-5.6,"v":6.3},{"x":-12.32,"y":-5.6,"v":6.5},{"x":-10.72,"y":-5.6,"v":6.6},{"x":-9.12,"y":-5.6,"v":6.5},{"x":-7.52,"y":-5.6,"v":5.5},{"x":-5.92,"y":-5.6,"v":4.3},{"x":-4.32,"y":-5.6,"v":3.2},{"x":-2.72,"y":-5.6,"v":2.4},{"x":-1.12,"y":-5.6,"v":1.9},{"x":0.48,"y":-5.6,"v":2.2},{"x":2.08,"y":-5.6,"v":3.2},{"x":3.68,"y":-5.6,"v":4.4},{"x":5.28,"y":-5.6,"v":6},{"x":6.88,"y":-5.6,"v":8.5},{"x":8.48,"y":-5.6,"v":11},{"x":10.08,"y":-5.6,"v":13.4},{"x":11.68,"y":-5.6,"v":15.9},{"x":13.28,"y":-5.6,"v":18},{"x":14.88,"y":-5.6,"v":19.2},
{"x":-29.92,"y":-7.2,"v":10},{"x":-28.32,"y":-7.2,"v":9.2},{"x":-26.72,"y":-7.2,"v":8.2},{"x":-25.12,"y":-7.2,"v":7.6},{"x":-23.52,"y":-7.2,"v":7.2},{"x":-21.92,"y":-7.2,"v":7},{"x":-20.32,"y":-7.2,"v":6.8},{"x":-18.72,"y":-7.2,"v":6.7},{"x":-17.12,"y":-7.2,"v":6.8},{"x":-15.52,"y":-7.2,"v":7.1},{"x":-13.92,"y":-7.2,"v":7.6},{"x":-12.32,"y":-7.2,"v":8},{"x":-10.72,"y":-7.2,"v":8.1},{"x":-9.12,"y":-7.2,"v":7.7},{"x":-7.52,"y":-7.2,"v":6.5},{"x":-5.92,"y":-7.2,"v":5.3},{"x":-4.32,"y":-7.2,"v":4.1},{"x":-2.72,"y":-7.2,"v":3.3},{"x":-1.12,"y":-7.2,"v":2.9},{"x":0.48,"y":-7.2,"v":3},{"x":2.08,"y":-7.2,"v":3.9},{"x":3.68,"y":-7.2,"v":5},{"x":5.28,"y":-7.2,"v":6.8},{"x":6.88,"y":-7.2,"v":9},{"x":8.48,"y":-7.2,"v":11.4},{"x":10.08,"y":-7.2,"v":14},{"x":11.68,"y":-7.2,"v":16.4},{"x":13.28,"y":-7.2,"v":18.4},{"x":14.88,"y":-7.2,"v":19.5},
{"x":-29.92,"y":-8.8,"v":11.5},{"x":-28.32,"y":-8.8,"v":10.8},{"x":-26.72,"y":-8.8,"v":10},{"x":-25.12,"y":-8.8,"v":9.6},{"x":-23.52,"y":-8.8,"v":9.2},{"x":-21.92,"y":-8.8,"v":9},{"x":-20.32,"y":-8.8,"v":8.7},{"x":-18.72,"y":-8.8,"v":8.5},{"x":-17.12,"y":-8.8,"v":8.6},{"x":-15.52,"y":-8.8,"v":9},{"x":-13.92,"y":-8.8,"v":9.7},{"x":-12.32,"y":-8.8,"v":10.5},{"x":-10.72,"y":-8.8,"v":11},{"x":-9.12,"y":-8.8,"v":11},{"x":-7.52,"y":-8.8,"v":9.9},{"x":-5.92,"y":-8.8,"v":8.7},{"x":-4.32,"y":-8.8,"v":7.5},{"x":-2.72,"y":-8.8,"v":6.5},{"x":-1.12,"y":-8.8,"v":6},{"x":0.48,"y":-8.8,"v":6.1},{"x":2.08,"y":-8.8,"v":6.9},{"x":3.68,"y":-8.8,"v":8},{"x":5.28,"y":-8.8,"v":9.8},{"x":6.88,"y":-8.8,"v":12},{"x":8.48,"y":-8.8,"v":14.4},{"x":10.08,"y":-8.8,"v":16.5},{"x":11.68,"y":-8.8,"v":18.4},{"x":13.28,"y":-8.8,"v":19.5},{"x":14.88,"y":-8.8,"v":19.9},
{"x":-29.92,"y":-10.4,"v":14},{"x":-28.32,"y":-10.4,"v":13.2},{"x":-26.72,"y":-10.4,"v":12.6},{"x":-25.12,"y":-10.4,"v":12.2},{"x":-23.52,"y":-10.4,"v":11.8},{"x":-21.92,"y":-10.4,"v":11.6},{"x":-20.32,"y":-10.4,"v":11.5},{"x":-18.72,"y":-10.4,"v":11.4},{"x":-17.12,"y":-10.4,"v":11.6},{"x":-15.52,"y":-10.4,"v":12.2},{"x":-13.92,"y":-10.4,"v":13},{"x":-12.32,"y":-10.4,"v":13.9},{"x":-10.72,"y":-10.4,"v":14.5},{"x":-9.12,"y":-10.4,"v":14.5},{"x":-7.52,"y":-10.4,"v":13.4},{"x":-5.92,"y":-10.4,"v":12.4},{"x":-4.32,"y":-10.4,"v":11.4},{"x":-2.72,"y":-10.4,"v":10.5},{"x":-1.12,"y":-10.4,"v":10},{"x":0.48,"y":-10.4,"v":10.2},{"x":2.08,"y":-10.4,"v":10.9},{"x":3.68,"y":-10.4,"v":12},{"x":5.28,"y":-10.4,"v":13.8},{"x":6.88,"y":-10.4,"v":15.6},{"x":8.48,"y":-10.4,"v":17},{"x":10.08,"y":-10.4,"v":18.5},{"x":11.68,"y":-10.4,"v":19.3},{"x":13.28,"y":-10.4,"v":19.8},
{"x":-28.32,"y":-12,"v":17},{"x":-26.72,"y":-12,"v":16.6},{"x":-25.12,"y":-12,"v":16.5},{"x":-23.52,"y":-12,"v":16.3},{"x":-21.92,"y":-12,"v":16.2},{"x":-20.32,"y":-12,"v":16},{"x":-18.72,"y":-12,"v":16},{"x":-17.12,"y":-12,"v":16.2},{"x":-15.52,"y":-12,"v":16.8},{"x":-13.92,"y":-12,"v":17.5},{"x":-12.32,"y":-12,"v":18.2},{"x":-10.72,"y":-12,"v":18.6},{"x":-9.12,"y":-12,"v":18.6},{"x":-7.52,"y":-12,"v":18.1},{"x":-5.92,"y":-12,"v":17.4},{"x":-4.32,"y":-12,"v":16.6},{"x":-2.72,"y":-12,"v":16.2},{"x":-1.12,"y":-12,"v":16},{"x":0.48,"y":-12,"v":16},{"x":2.08,"y":-12,"v":16.3},{"x":3.68,"y":-12,"v":17},{"x":5.28,"y":-12,"v":17.8},{"x":6.88,"y":-12,"v":18.5},{"x":8.48,"y":-12,"v":19.3},{"x":10.08,"y":-12,"v":19.7},
{"x":-25.12,"y":-13.6,"v":19.6},{"x":-23.52,"y":-13.6,"v":19.6},{"x":-21.92,"y":-13.6,"v":19.6},{"x":-20.32,"y":-13.6,"v":19.7}],
"BarB":[{"v":1.5},{"v":4.5},{"v":7.5},{"v":10.5},{"v":13.5},{"v":16.5},{"v":19.5},{"v":22.5},{"v":25.5},{"v":28.5},{"v":31.5},{"v":34.5},{"v":37.5},{"v":40.5},{"v":43.5},{"v":46.5},{"v":49.5},{"v":52.5},{"v":55.5},{"v":58.5},{"v":61.5},{"v":64.5},{"v":67.5},{"v":70.5},{"v":73.5},{"v":76.5},{"v":79.5},{"v":82.5},{"v":85.5},{"v":88.5},{"v":91.5},{"v":94.5},{"v":97.5},{"v":100.5},{"v":103.5},{"v":106.5},{"v":109.5},{"v":112.5},{"v":115.5},{"v":118.5}],
"BarC":[{"v":0.25},{"v":0.75},{"v":1.25},{"v":1.75},{"v":2.25},{"v":2.75},{"v":3.25},{"v":3.75},{"v":4.25},{"v":4.75},{"v":5.25},{"v":5.75},{"v":6.25},{"v":6.75},{"v":7.25},{"v":7.75},{"v":8.25},{"v":8.75},{"v":9.25},{"v":9.75},{"v":10.25},{"v":10.75},{"v":11.25},{"v":11.75},{"v":12.25},{"v":12.75},{"v":13.25},{"v":13.75},{"v":14.25},{"v":14.75},{"v":15.25},{"v":15.75},{"v":16.25},{"v":16.75},{"v":17.25},{"v":17.75},{"v":18.25},{"v":18.75},{"v":19.25},{"v":19.75}],
"X":[{"x":-0.2,"y":-6.3,"t":"X"}]
},
"vconcat":[
{"bounds":"flush","spacing":41,"resolve":{"scale":{"color":"independent"}},"hconcat":[
{"width":303,"height":270,"layer":[
{"data":{"name":"A"},"mark":{"type":"line","color":"#7a0f26","strokeWidth":3.8,"strokeJoin":"miter","interpolate":"catmull-rom"},"encoding":{"order":{"field":"i"},"x":{"field":"e","type":"quantitative","scale":{"domain":[80,0]},"axis":{"values":[80,70,60,50,40,30,20,10,0],"title":"Free Energy (kJ/mol)","titlePadding":4}},"y":{"field":"y","type":"quantitative","scale":{"domain":[-180,180]},"axis":{"values":[-150,-100,-50,0,50,100,150],"title":"A Base Flip (degrees)","titlePadding":8,"labelPadding":20}}}},
{"data":{"name":"Ad"},"mark":{"type":"line","color":"#7fd4cf","strokeWidth":3.5,"strokeDash":[8,10]},"encoding":{"order":{"field":"i"},"x":{"field":"e","type":"quantitative","scale":{"domain":[80,0]},"axis":{"orient":"top","values":[80,70,60,50,40,30,20,10,0],"labels":false,"title":null}},"y":{"field":"y","type":"quantitative","scale":{"domain":[-180,180]},"axis":{"orient":"right","values":[-150,-100,-50,0,50,100,150],"labels":false,"title":null}}}}
],"resolve":{"axis":{"x":"independent","y":"independent"}}},
{"bounds":"flush","spacing":8,"resolve":{"scale":{"color":"independent"}},"hconcat":[
{"width":303,"height":270,"view":{"stroke":null},"layer":[
{"data":{"name":"B1"},"mark":{"type":"rect","width":10.4,"height":23,"clip":true},"encoding":{"x":{"field":"x","type":"quantitative","scale":{"domain":[-180,180]},"axis":null},"y":{"field":"y","type":"quantitative","scale":{"domain":[-180,180]},"axis":null},"color":{"field":"v","type":"quantitative","legend":null,"scale":{"domain":[0,15,30,45,60,75,90,105,120],"range":["#662506","#993404","#cc4c02","#ec7014","#fe9929","#fec44f","#fee391","#fff7bc","#ffffe5"]}}}},
{"data":{"name":"B2"},"mark":{"type":"rect","width":10.4,"height":4.8,"clip":true},"encoding":{"x":{"field":"x","type":"quantitative","scale":{"domain":[-180,180]},"axis":null},"y":{"field":"y","type":"quantitative","scale":{"domain":[-180,180]},"axis":null},"color":{"field":"v","type":"quantitative","legend":null,"scale":{"domain":[0,15,30,45,60,75,90,105,120],"range":["#662506","#993404","#cc4c02","#ec7014","#fe9929","#fec44f","#fee391","#fff7bc","#ffffe5"]}}}},
{"data":{"name":"B3"},"mark":{"type":"rect","width":5.3,"height":4.8,"clip":true},"encoding":{"x":{"field":"x","type":"quantitative","scale":{"domain":[-180,180]},"axis":null},"y":{"field":"y","type":"quantitative","scale":{"domain":[-180,180]},"axis":null},"color":{"field":"v","type":"quantitative","legend":null,"scale":{"domain":[0,15,30,45,60,75,90,105,120],"range":["#662506","#993404","#cc4c02","#ec7014","#fe9929","#fec44f","#fee391","#fff7bc","#ffffe5"]}}}}
]},
{"width":15,"height":270,"data":{"name":"BarB"},"mark":{"type":"rect","height":7,"clip":true},"encoding":{"y":{"field":"v","type":"quantitative","scale":{"domain":[0,120]},"axis":{"orient":"right","values":[0,20,40,60,80,100,120],"ticks":false,"labelPadding":7,"grid":true,"gridColor":"#222","gridWidth":1.2,"gridOpacity":1,"title":null}},"color":{"field":"v","type":"quantitative","legend":null,"scale":{"domain":[0,15,30,45,60,75,90,105,120],"range":["#662506","#993404","#cc4c02","#ec7014","#fe9929","#fec44f","#fee391","#fff7bc","#ffffe5"]}}}}
]}
]},
{"bounds":"flush","spacing":344,"resolve":{"scale":{"color":"independent"}},"hconcat":[
{"bounds":"flush","spacing":7,"resolve":{"scale":{"color":"independent"}},"hconcat":[
{"width":270,"height":270,"view":{"fill":"#ffffe5"},"layer":[
{"data":{"name":"C"},"mark":{"type":"rect","width":8.9,"height":11.4,"clip":true},"encoding":{"x":{"field":"x","type":"quantitative","scale":{"domain":[-30,20]},"axis":{"values":[-20,-10,0,10,20],"title":null}},"y":{"field":"y","type":"quantitative","scale":{"domain":[-20,20]},"axis":{"values":[-20,-10,0,10,20],"title":null,"labelPadding":20}},"color":{"field":"v","type":"quantitative","legend":null,"scale":{"domain":[0,2.5,5,7.5,10,12.5,15,17.5,20],"range":["#662506","#993404","#cc4c02","#ec7014","#fe9929","#fec44f","#fee391","#fff7bc","#ffffe5"]}}}},
{"data":{"name":"Cont"},"mark":{"type":"line","color":"#111","strokeWidth":1.4},"encoding":{"detail":{"field":"c"},"order":{"field":"i"},"x":{"field":"x","type":"quantitative","scale":{"domain":[-30,20]},"axis":{"orient":"top","values":[-20,-10,0,10,20],"labels":false,"title":null}},"y":{"field":"y","type":"quantitative","scale":{"domain":[-20,20]},"axis":{"orient":"right","values":[-20,-10,0,10,20],"labels":false,"title":null}}}},
{"data":{"name":"X"},"mark":{"type":"text","fontSize":19,"color":"#111","font":"DejaVu Sans"},"encoding":{"text":{"field":"t"},"x":{"field":"x","type":"quantitative","scale":{"domain":[-30,20]},"axis":null},"y":{"field":"y","type":"quantitative","scale":{"domain":[-20,20]},"axis":null}}}
],"resolve":{"axis":{"x":"independent","y":"independent"}}},
{"width":14,"height":270,"data":{"name":"BarC"},"mark":{"type":"rect","height":7,"clip":true},"encoding":{"y":{"field":"v","type":"quantitative","scale":{"domain":[0,20]},"axis":{"orient":"right","values":[0,5,10,15,20],"ticks":false,"labelPadding":7,"grid":true,"gridColor":"#222","gridWidth":1.2,"gridOpacity":1,"title":null}},"color":{"field":"v","type":"quantitative","legend":null,"scale":{"domain":[0,2.5,5,7.5,10,12.5,15,17.5,20],"range":["#662506","#993404","#cc4c02","#ec7014","#fe9929","#fec44f","#fee391","#fff7bc","#ffffe5"]}}}}
]},
{"width":304,"height":270,"layer":[
{"data":{"name":"D"},"mark":{"type":"line","color":"#7a0f26","strokeWidth":3.8,"interpolate":"catmull-rom"},"encoding":{"x":{"field":"x","type":"quantitative","scale":{"domain":[-180,180]},"axis":{"values":[-180,-90,0,90,180],"title":"A Base Flip (degrees)","titlePadding":4}},"y":{"field":"e","type":"quantitative","scale":{"domain":[0,50]},"axis":{"orient":"right","values":[0,10,20,30,40,50],"title":"Free Energy (kJ/mol)","titleAngle":270,"titleBaseline":"top","titlePadding":1,"labelPadding":27}}}},
{"data":{"name":"Dd"},"mark":{"type":"line","color":"#7fd4cf","strokeWidth":3.5,"strokeDash":[8,10]},"encoding":{"x":{"field":"x","type":"quantitative","scale":{"domain":[-180,180]},"axis":{"orient":"top","values":[-180,-90,0,90,180],"labels":false,"title":null}},"y":{"field":"e","type":"quantitative","scale":{"domain":[0,50]},"axis":{"orient":"left","values":[0,10,20,30,40,50],"labels":false,"title":null}}}}
],"resolve":{"axis":{"x":"independent","y":"independent"}}}
]}
]}
